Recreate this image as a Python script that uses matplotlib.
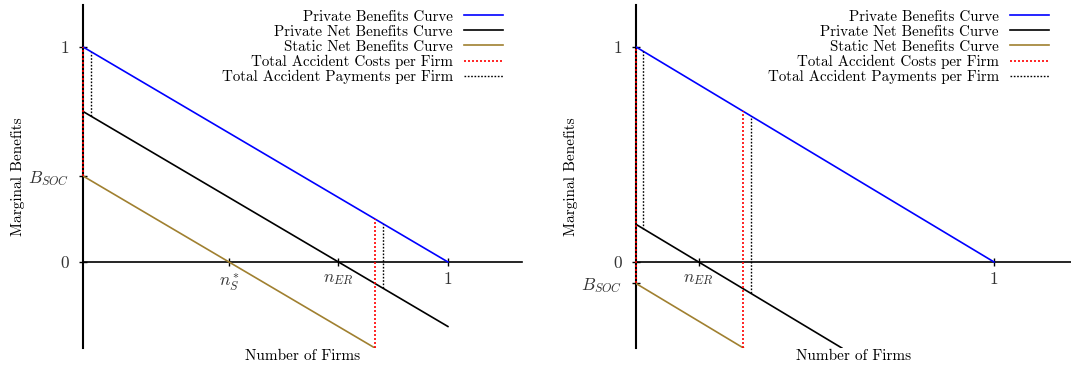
import matplotlib
matplotlib.use("Agg")
import matplotlib.pyplot as plt
from matplotlib.lines import Line2D

plt.rcParams['font.family'] = ['cmr10', 'DejaVu Serif']
plt.rcParams['mathtext.fontset'] = 'cm'
plt.rcParams['axes.unicode_minus'] = False

# ---------------- data ----------------
legend_labels = ["Private Benefits Curve", "Private Net Benefits Curve",
                 "Static Net Benefits Curve", "Total Accident Costs per Firm",
                 "Total Accident Payments per Firm"]

# left panel
L_private_x = [0, 1];      L_private_y = [1, 0]
L_net_x = [0, 1];          L_net_y = [0.7, -0.3]
L_static_x = [0, 0.8];     L_static_y = [0.4, -0.4]
L_cost_x = [0, 0.8];       L_cost_top = [1, 0.2];      L_cost_bot = [0.4, -0.4]
L_pay_x = [0.022, 0.822];  L_pay_top = [0.978, 0.178]; L_pay_bot = [0.678, -0.122]
L_xticks = [0.4, 0.7, 1];  L_xlabels = [r"$n^*_S$", r"$n_{ER}$", "1"]
L_yticks = [0, 0.4, 1];    L_ylabels = ["0", r"$B_{SOC}$", "1"]

# right panel
R_private_x = [0, 1];      R_private_y = [1, 0]
R_net_x = [0, 0.575];      R_net_y = [0.175, -0.4]
R_static_x = [0, 0.3];     R_static_y = [-0.1, -0.4]
R_cost_x = [0, 0.3];       R_cost_top = [1, 0.7];      R_cost_bot = [-0.1, -0.4]
R_pay_x = [0.02, 0.32];    R_pay_top = [0.98, 0.68];   R_pay_bot = [0.155, -0.145]
R_xticks = [0.175, 1];     R_xlabels = [r"$n_{ER}$", "1"]
R_yticks = [-0.1, 0, 1];   R_ylabels = [r"$B_{SOC}$", "0", "1"]

BLUE = "#0000ff"
BLACK = "#000000"
GOLD = "#a08030"
RED = "#ff0000"

W, H = 1071, 371
fig = plt.figure(figsize=(W / 100, H / 100), dpi=100)


def px_axes(l, r, t, b):
    return fig.add_axes([l / W, 1 - b / H, (r - l) / W, (b - t) / H])


def panel(ax, xlim, priv, net, static, cost, pay, xt, xl, yt, yl, leg_right, leg_top):
    ax.set_xlim(*xlim)
    ax.set_ylim(-0.4, 1.195)
    for s in ("top", "right"):
        ax.spines[s].set_visible(False)
    ax.spines["bottom"].set_position(("data", 0))
    ax.spines["left"].set_linewidth(1.5)
    ax.spines["bottom"].set_linewidth(1.2)
    ax.plot(priv[0], priv[1], color=BLUE, lw=1.2, zorder=3)
    ax.plot(net[0], net[1], color=BLACK, lw=1.2, zorder=3)
    ax.plot(static[0], static[1], color=GOLD, lw=1.2, zorder=3)
    ax.vlines(cost[0], cost[2], cost[1], colors=RED, linestyles=(0, (1.2, 1.2)),
              lw=1.2, zorder=4, clip_on=False)
    ax.vlines(pay[0], pay[2], pay[1], colors=BLACK, linestyles=(0, (1.2, 1.2)),
              lw=1.0, zorder=4)
    ax.set_xticks(xt)
    ax.set_xticklabels(xl)
    ax.set_yticks(yt)
    ax.set_yticklabels(yl)
    ax.tick_params(axis="both", direction="inout", length=6, width=1, labelsize=12.5,
                   labelcolor="#333333")
    ax.tick_params(axis="y", pad=7)
    ax.tick_params(axis="x", pad=4)
    ax.set_ylabel("Marginal Benefits", fontsize=11)
    ax.set_xlabel("Number of Firms", fontsize=11)
    ax.yaxis.set_label_coords(-0.133, 0.5)
    ax.xaxis.set_label_coords(0.5, -0.005)
    handles = [Line2D([], [], color=BLUE, lw=1.2),
               Line2D([], [], color=BLACK, lw=1.2),
               Line2D([], [], color=GOLD, lw=1.2),
               Line2D([], [], color=RED, lw=1.2, ls=(0, (1.2, 1.2))),
               Line2D([], [], color=BLACK, lw=1.0, ls=(0, (1.2, 1.2)))]
    fig.legend(handles, legend_labels, loc="upper right",
               bbox_to_anchor=(leg_right / W, 1 - leg_top / H),
               frameon=False, markerfirst=False, fontsize=10.8,
               handlelength=2.6, handletextpad=0.75, labelspacing=0.08,
               borderpad=0, borderaxespad=0)


axL = px_axes(83, 522, 5, 348)
panel(axL, (0, 1.203), (L_private_x, L_private_y), (L_net_x, L_net_y),
      (L_static_x, L_static_y), (L_cost_x, L_cost_top, L_cost_bot),
      (L_pay_x, L_pay_top, L_pay_bot), L_xticks, L_xlabels, L_yticks, L_ylabels,
      503, 10)

axR = px_axes(636, 1071, 5, 348)
panel(axR, (0, 1.215), (R_private_x, R_private_y), (R_net_x, R_net_y),
      (R_static_x, R_static_y), (R_cost_x, R_cost_top, R_cost_bot),
      (R_pay_x, R_pay_top, R_pay_bot), R_xticks, R_xlabels, R_yticks, R_ylabels,
      1049, 10)

fig.savefig("out.png", dpi=100)
